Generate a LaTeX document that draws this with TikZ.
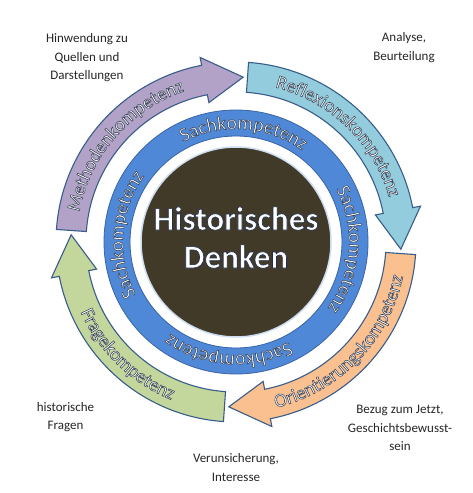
\documentclass[tikz,border=0pt]{standalone}
\usepackage{fontspec}
\setmainfont{Carlito}[BoldFont={Carlito Bold}]
\usetikzlibrary{decorations.text}
\definecolor{arrowline}{RGB}{56,93,138}
\definecolor{methfill}{RGB}{178,162,199}
\definecolor{reflfill}{RGB}{147,205,221}
\definecolor{orifill}{RGB}{250,192,144}
\definecolor{fragfill}{RGB}{195,214,155}
\definecolor{ringfill}{RGB}{79,136,215}
\definecolor{ringline}{RGB}{58,100,165}
\definecolor{corefill}{RGB}{66,58,40}
\definecolor{coreedge}{RGB}{205,222,242}
\newcommand\olon{\special{pdf:literal direct 2 Tr 0.55 w 0.22 0.26 0.34 RG}}
\newcommand\olonbig{\special{pdf:literal direct 2 Tr 0.65 w 0.12 0.18 0.32 RG}}
\begin{document}
\begin{tikzpicture}[x=1pt,y=1pt,
  cw/.style={draw=arrowline, line width=1.1pt, line join=miter},
  labeltext/.style={align=center, font=\fontsize{13}{18.5}\selectfont, text=black!85, inner sep=0pt},
  titletext/.style={font=\fontsize{33}{40}\selectfont\bfseries, text=white, inner sep=0pt, anchor=base},
]
\useasboundingbox (0,0) rectangle (472,-493);
\fill[white] (0,0) rectangle (472,-493);
\begin{scope}[shift={(236,-242)}]
  % arrows
  \filldraw[cw, fill=methfill] (176:180) arc[start angle=176, end angle=101, radius=180]
    -- (101:188) -- (87.5:165) -- (101:142) -- (101:150)
    arc[start angle=101, end angle=176, radius=150] -- cycle;
  \filldraw[cw, fill=reflfill] (86:180) arc[start angle=86, end angle=11, radius=180]
    -- (11:188) -- (-2.5:165) -- (11:142) -- (11:150)
    arc[start angle=11, end angle=86, radius=150] -- cycle;
  \filldraw[cw, fill=orifill] (-4:180) arc[start angle=-4, end angle=-79, radius=180]
    -- (-79:188) -- (-92.5:165) -- (-79:142) -- (-79:150)
    arc[start angle=-79, end angle=-4, radius=150] -- cycle;
  \filldraw[cw, fill=fragfill] (266:180) arc[start angle=266, end angle=191, radius=180]
    -- (191:188) -- (177.5:165) -- (191:142) -- (191:150)
    arc[start angle=191, end angle=266, radius=150] -- cycle;
  % ring and core
  \filldraw[fill=ringfill, draw=ringline, line width=0.8pt, even odd rule]
    (0,0) circle[radius=132] (0,0) circle[radius=106];
  \filldraw[fill=corefill, draw=coreedge, line width=1.5pt] (0,0) circle[radius=95];
\end{scope}
% outer labels
\node[labeltext] (hinw) at (87,-58) {Hinwendung zu\\Quellen und\\Darstellungen};
\node[labeltext] (anal) at (404,-47.5) {Analyse,\\Beurteilung};
\node[labeltext] (hist) at (65.5,-417) {historische\\Fragen};
\node[labeltext] (veru) at (236,-467.5) {Verunsicherung,\\Interesse};
\node[labeltext] (bezu) at (400,-428) {Bezug zum Jetzt,\\Geschichtsbewusst-\\sein};
\begin{scope}[shift={(236,-242)}]
  % title
  \node[titletext] (titleA) at (0,12) {\olonbig Historisches};
  \node[titletext] (titleB) at (0,-26) {\olonbig Denken};
  % arrow labels
  \path[decorate, decoration={text along path, text align=center,
    text={|\fontsize{19}{20}\selectfont\color{white}\olon|Methodenkompetenz}}]
    (189:159.5) arc[start angle=189, end angle=89, radius=159.5];
  \path[decorate, decoration={text along path, text align=center,
    text={|\fontsize{19}{20}\selectfont\color{white}\olon|Reflexionskompetenz}}]
    (96:159.5) arc[start angle=96, end angle=-4, radius=159.5];
  \path[decorate, decoration={text along path, text align=center,
    text={|\fontsize{19}{20}\selectfont\color{white}\olon|Orientierungskompetenz}}]
    (-94:170.5) arc[start angle=-94, end angle=6, radius=170.5];
  \path[decorate, decoration={text along path, text align=center,
    text={|\fontsize{19}{20}\selectfont\color{white}\olon|Fragekompetenz}}]
    (176:170.5) arc[start angle=176, end angle=276, radius=170.5];
  % ring labels
  \path[decorate, decoration={text along path, text align=center,
    text={|\fontsize{19.5}{20}\selectfont\color{white}\olon|Sachkompetenz}}]
    (136:113) arc[start angle=136, end angle=36, radius=113];
  \path[decorate, decoration={text along path, text align=center,
    text={|\fontsize{19.5}{20}\selectfont\color{white}\olon|Sachkompetenz}}]
    (46:113) arc[start angle=46, end angle=-54, radius=113];
  \path[decorate, decoration={text along path, text align=center,
    text={|\fontsize{19.5}{20}\selectfont\color{white}\olon|Sachkompetenz}}]
    (-44:113) arc[start angle=-44, end angle=-144, radius=113];
  \path[decorate, decoration={text along path, text align=center,
    text={|\fontsize{19.5}{20}\selectfont\color{white}\olon|Sachkompetenz}}]
    (226:113) arc[start angle=226, end angle=126, radius=113];
\end{scope}
\end{tikzpicture}
\end{document}
